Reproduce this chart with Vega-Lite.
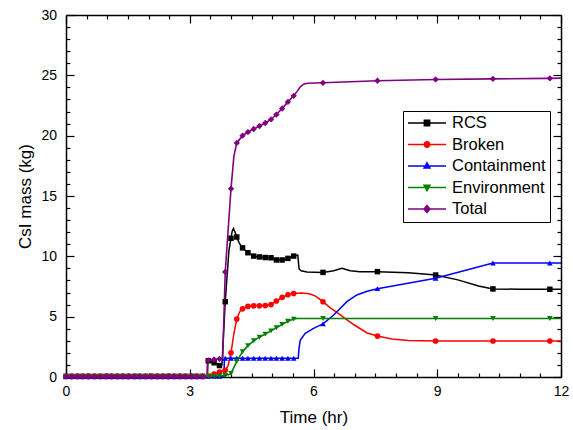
{
  "$schema": "https://vega.github.io/schema/vega-lite/v6.json",
  "width": 495,
  "height": 362,
  "autosize": "none",
  "padding": {"left": 66, "top": 15, "right": 12, "bottom": 53},
  "background": "white",
  "config": {
    "view": {"stroke": null},
    "font": "Liberation Sans",
    "axis": {
      "grid": false,
      "domainColor": "black",
      "tickColor": "black",
      "labelColor": "black",
      "titleColor": "black",
      "domainWidth": 1.5,
      "tickWidth": 1.2,
      "labelFontSize": 14,
      "titleFontSize": 17,
      "titleFontWeight": "normal",
      "labelFlush": false,
      "labelFont": "Liberation Sans",
      "titleFont": "Liberation Sans"
    },
    "legend": {
      "title": null,
      "orient": "none",
      "legendX": 337,
      "legendY": 96,
      "padding": 4,
      "strokeColor": "black",
      "fillColor": "white",
      "symbolSize": 1444,
      "symbolOffset": 0,
      "clipHeight": 16,
      "rowPadding": 4.5,
      "labelOffset": 5,
      "labelFontSize": 16.5,
      "labelFont": "Liberation Sans",
      "labelColor": "black",
      "labelLimit": 0,
      "symbolOpacity": 1
    }
  },
  "datasets": {
    "curve": [
      {"s":"RCS","t":0,"m":0.05},{"s":"RCS","t":3.43,"m":0.05},{"s":"RCS","t":3.44,"m":1.35},{"s":"RCS","t":3.45,"m":1.35},{"s":"RCS","t":3.59,"m":1.18},{"s":"RCS","t":3.72,"m":0.95},{"s":"RCS","t":3.78,"m":1.0},{"s":"RCS","t":3.86,"m":6.24},{"s":"RCS","t":3.95,"m":10.5},{"s":"RCS","t":4.0,"m":11.5},{"s":"RCS","t":4.03,"m":12.1},{"s":"RCS","t":4.06,"m":12.3},{"s":"RCS","t":4.1,"m":12.0},{"s":"RCS","t":4.14,"m":11.6},{"s":"RCS","t":4.2,"m":11.1},{"s":"RCS","t":4.28,"m":10.7},{"s":"RCS","t":4.41,"m":10.3},{"s":"RCS","t":4.55,"m":10.02},{"s":"RCS","t":4.69,"m":9.95},{"s":"RCS","t":4.83,"m":9.9},{"s":"RCS","t":4.97,"m":9.88},{"s":"RCS","t":5.1,"m":9.7},{"s":"RCS","t":5.24,"m":9.7},{"s":"RCS","t":5.38,"m":9.83},{"s":"RCS","t":5.52,"m":10.02},{"s":"RCS","t":5.62,"m":10.1},{"s":"RCS","t":5.65,"m":8.95},{"s":"RCS","t":5.7,"m":8.8},{"s":"RCS","t":5.84,"m":8.7},{"s":"RCS","t":6.23,"m":8.67},{"s":"RCS","t":6.49,"m":8.8},{"s":"RCS","t":6.69,"m":9.0},{"s":"RCS","t":6.89,"m":8.8},{"s":"RCS","t":7.13,"m":8.72},{"s":"RCS","t":7.55,"m":8.73},{"s":"RCS","t":8.3,"m":8.63},{"s":"RCS","t":8.96,"m":8.45},{"s":"RCS","t":9.5,"m":8.05},{"s":"RCS","t":10.0,"m":7.55},{"s":"RCS","t":10.35,"m":7.3},{"s":"RCS","t":11.0,"m":7.27},{"s":"RCS","t":11.73,"m":7.27},{"s":"RCS","t":12,"m":7.27},
      {"s":"Broken","t":0,"m":0.05},{"s":"Broken","t":3.45,"m":0.08},{"s":"Broken","t":3.59,"m":0.25},{"s":"Broken","t":3.72,"m":0.4},{"s":"Broken","t":3.86,"m":0.55},{"s":"Broken","t":3.93,"m":0.95},{"s":"Broken","t":4.0,"m":2.0},{"s":"Broken","t":4.07,"m":3.6},{"s":"Broken","t":4.14,"m":4.8},{"s":"Broken","t":4.21,"m":5.4},{"s":"Broken","t":4.28,"m":5.65},{"s":"Broken","t":4.41,"m":5.85},{"s":"Broken","t":4.55,"m":5.9},{"s":"Broken","t":4.69,"m":5.9},{"s":"Broken","t":4.83,"m":5.92},{"s":"Broken","t":4.97,"m":6.0},{"s":"Broken","t":5.1,"m":6.3},{"s":"Broken","t":5.24,"m":6.6},{"s":"Broken","t":5.38,"m":6.82},{"s":"Broken","t":5.52,"m":6.92},{"s":"Broken","t":5.7,"m":6.97},{"s":"Broken","t":5.9,"m":6.9},{"s":"Broken","t":6.05,"m":6.7},{"s":"Broken","t":6.23,"m":6.24},{"s":"Broken","t":6.4,"m":5.75},{"s":"Broken","t":6.65,"m":5.15},{"s":"Broken","t":6.97,"m":4.35},{"s":"Broken","t":7.3,"m":3.65},{"s":"Broken","t":7.55,"m":3.39},{"s":"Broken","t":7.9,"m":3.15},{"s":"Broken","t":8.3,"m":3.03},{"s":"Broken","t":8.96,"m":2.98},{"s":"Broken","t":10.35,"m":2.98},{"s":"Broken","t":11.73,"m":2.98},{"s":"Broken","t":12,"m":2.98},
      {"s":"Containment","t":0,"m":0.05},{"s":"Containment","t":3.83,"m":0.05},{"s":"Containment","t":3.84,"m":1.55},{"s":"Containment","t":5.63,"m":1.55},{"s":"Containment","t":5.65,"m":2.4},{"s":"Containment","t":5.68,"m":3.07},{"s":"Containment","t":5.8,"m":3.62},{"s":"Containment","t":6.0,"m":4.03},{"s":"Containment","t":6.23,"m":4.4},{"s":"Containment","t":6.49,"m":5.14},{"s":"Containment","t":6.81,"m":6.24},{"s":"Containment","t":7.05,"m":6.8},{"s":"Containment","t":7.3,"m":7.1},{"s":"Containment","t":7.55,"m":7.32},{"s":"Containment","t":8.96,"m":8.18},{"s":"Containment","t":10.35,"m":9.45},{"s":"Containment","t":11.73,"m":9.45},{"s":"Containment","t":12,"m":9.45},
      {"s":"Environment","t":0,"m":0.05},{"s":"Environment","t":3.45,"m":0.05},{"s":"Environment","t":3.72,"m":0.08},{"s":"Environment","t":3.86,"m":0.12},{"s":"Environment","t":3.95,"m":0.2},{"s":"Environment","t":4.0,"m":0.3},{"s":"Environment","t":4.05,"m":0.65},{"s":"Environment","t":4.14,"m":1.3},{"s":"Environment","t":4.28,"m":2.1},{"s":"Environment","t":4.41,"m":2.6},{"s":"Environment","t":4.55,"m":3.0},{"s":"Environment","t":4.69,"m":3.3},{"s":"Environment","t":4.83,"m":3.55},{"s":"Environment","t":4.97,"m":3.82},{"s":"Environment","t":5.1,"m":4.08},{"s":"Environment","t":5.24,"m":4.36},{"s":"Environment","t":5.38,"m":4.62},{"s":"Environment","t":5.52,"m":4.8},{"s":"Environment","t":5.6,"m":4.85},{"s":"Environment","t":6.23,"m":4.85},{"s":"Environment","t":12,"m":4.85},
      {"s":"Total","t":0,"m":0.05},{"s":"Total","t":3.42,"m":0.05},{"s":"Total","t":3.43,"m":1.35},{"s":"Total","t":3.45,"m":1.38},{"s":"Total","t":3.59,"m":1.45},{"s":"Total","t":3.72,"m":1.5},{"s":"Total","t":3.8,"m":1.6},{"s":"Total","t":3.86,"m":8.7},{"s":"Total","t":4.0,"m":15.6},{"s":"Total","t":4.07,"m":18.3},{"s":"Total","t":4.14,"m":19.4},{"s":"Total","t":4.28,"m":20.0},{"s":"Total","t":4.41,"m":20.3},{"s":"Total","t":4.55,"m":20.55},{"s":"Total","t":4.69,"m":20.8},{"s":"Total","t":4.83,"m":21.05},{"s":"Total","t":4.97,"m":21.35},{"s":"Total","t":5.1,"m":21.75},{"s":"Total","t":5.24,"m":22.25},{"s":"Total","t":5.38,"m":22.8},{"s":"Total","t":5.52,"m":23.3},{"s":"Total","t":5.6,"m":23.65},{"s":"Total","t":5.68,"m":24.05},{"s":"Total","t":5.76,"m":24.27},{"s":"Total","t":5.85,"m":24.35},{"s":"Total","t":6.23,"m":24.38},{"s":"Total","t":7.55,"m":24.55},{"s":"Total","t":8.96,"m":24.66},{"s":"Total","t":10.35,"m":24.71},{"s":"Total","t":11.73,"m":24.75},{"s":"Total","t":12,"m":24.77}
    ],
    "marks": [
      {"s":"RCS","t":0,"m":0.05},{"s":"RCS","t":0.14,"m":0.05},{"s":"RCS","t":0.28,"m":0.05},{"s":"RCS","t":0.41,"m":0.05},{"s":"RCS","t":0.55,"m":0.05},{"s":"RCS","t":0.69,"m":0.05},{"s":"RCS","t":0.83,"m":0.05},{"s":"RCS","t":0.97,"m":0.05},{"s":"RCS","t":1.1,"m":0.05},{"s":"RCS","t":1.24,"m":0.05},{"s":"RCS","t":1.38,"m":0.05},{"s":"RCS","t":1.52,"m":0.05},{"s":"RCS","t":1.66,"m":0.05},{"s":"RCS","t":1.79,"m":0.05},{"s":"RCS","t":1.93,"m":0.05},{"s":"RCS","t":2.07,"m":0.05},{"s":"RCS","t":2.21,"m":0.05},{"s":"RCS","t":2.35,"m":0.05},{"s":"RCS","t":2.48,"m":0.05},{"s":"RCS","t":2.62,"m":0.05},{"s":"RCS","t":2.76,"m":0.05},{"s":"RCS","t":2.9,"m":0.05},{"s":"RCS","t":3.04,"m":0.05},{"s":"RCS","t":3.17,"m":0.05},{"s":"RCS","t":3.31,"m":0.05},
      {"s":"RCS","t":3.45,"m":1.35},{"s":"RCS","t":3.59,"m":1.18},{"s":"RCS","t":3.72,"m":0.95},{"s":"RCS","t":3.86,"m":6.24},{"s":"RCS","t":4.0,"m":11.5},{"s":"RCS","t":4.14,"m":11.6},{"s":"RCS","t":4.28,"m":10.7},{"s":"RCS","t":4.41,"m":10.3},{"s":"RCS","t":4.55,"m":10.02},{"s":"RCS","t":4.69,"m":9.95},{"s":"RCS","t":4.83,"m":9.9},{"s":"RCS","t":4.97,"m":9.88},{"s":"RCS","t":5.1,"m":9.7},{"s":"RCS","t":5.24,"m":9.7},{"s":"RCS","t":5.38,"m":9.83},{"s":"RCS","t":5.52,"m":10.02},{"s":"RCS","t":6.23,"m":8.67},{"s":"RCS","t":7.55,"m":8.73},{"s":"RCS","t":8.96,"m":8.45},{"s":"RCS","t":10.35,"m":7.3},{"s":"RCS","t":11.73,"m":7.27},
      {"s":"Broken","t":0,"m":0.05},{"s":"Broken","t":0.14,"m":0.05},{"s":"Broken","t":0.28,"m":0.05},{"s":"Broken","t":0.41,"m":0.05},{"s":"Broken","t":0.55,"m":0.05},{"s":"Broken","t":0.69,"m":0.05},{"s":"Broken","t":0.83,"m":0.05},{"s":"Broken","t":0.97,"m":0.05},{"s":"Broken","t":1.1,"m":0.05},{"s":"Broken","t":1.24,"m":0.05},{"s":"Broken","t":1.38,"m":0.05},{"s":"Broken","t":1.52,"m":0.05},{"s":"Broken","t":1.66,"m":0.05},{"s":"Broken","t":1.79,"m":0.05},{"s":"Broken","t":1.93,"m":0.05},{"s":"Broken","t":2.07,"m":0.05},{"s":"Broken","t":2.21,"m":0.05},{"s":"Broken","t":2.35,"m":0.05},{"s":"Broken","t":2.48,"m":0.05},{"s":"Broken","t":2.62,"m":0.05},{"s":"Broken","t":2.76,"m":0.05},{"s":"Broken","t":2.9,"m":0.05},{"s":"Broken","t":3.04,"m":0.05},{"s":"Broken","t":3.17,"m":0.05},{"s":"Broken","t":3.31,"m":0.05},
      {"s":"Broken","t":3.45,"m":0.08},{"s":"Broken","t":3.59,"m":0.25},{"s":"Broken","t":3.72,"m":0.4},{"s":"Broken","t":3.86,"m":0.55},{"s":"Broken","t":4.0,"m":2.0},{"s":"Broken","t":4.14,"m":4.8},{"s":"Broken","t":4.28,"m":5.65},{"s":"Broken","t":4.41,"m":5.85},{"s":"Broken","t":4.55,"m":5.9},{"s":"Broken","t":4.69,"m":5.9},{"s":"Broken","t":4.83,"m":5.92},{"s":"Broken","t":4.97,"m":6.0},{"s":"Broken","t":5.1,"m":6.3},{"s":"Broken","t":5.24,"m":6.6},{"s":"Broken","t":5.38,"m":6.82},{"s":"Broken","t":5.52,"m":6.92},{"s":"Broken","t":6.23,"m":6.24},{"s":"Broken","t":7.55,"m":3.39},{"s":"Broken","t":8.96,"m":2.98},{"s":"Broken","t":10.35,"m":2.98},{"s":"Broken","t":11.73,"m":2.98},
      {"s":"Containment","t":0,"m":0.05},{"s":"Containment","t":0.14,"m":0.05},{"s":"Containment","t":0.28,"m":0.05},{"s":"Containment","t":0.41,"m":0.05},{"s":"Containment","t":0.55,"m":0.05},{"s":"Containment","t":0.69,"m":0.05},{"s":"Containment","t":0.83,"m":0.05},{"s":"Containment","t":0.97,"m":0.05},{"s":"Containment","t":1.1,"m":0.05},{"s":"Containment","t":1.24,"m":0.05},{"s":"Containment","t":1.38,"m":0.05},{"s":"Containment","t":1.52,"m":0.05},{"s":"Containment","t":1.66,"m":0.05},{"s":"Containment","t":1.79,"m":0.05},{"s":"Containment","t":1.93,"m":0.05},{"s":"Containment","t":2.07,"m":0.05},{"s":"Containment","t":2.21,"m":0.05},{"s":"Containment","t":2.35,"m":0.05},{"s":"Containment","t":2.48,"m":0.05},{"s":"Containment","t":2.62,"m":0.05},{"s":"Containment","t":2.76,"m":0.05},{"s":"Containment","t":2.9,"m":0.05},{"s":"Containment","t":3.04,"m":0.05},{"s":"Containment","t":3.17,"m":0.05},{"s":"Containment","t":3.31,"m":0.05},
      {"s":"Containment","t":3.45,"m":0.05},{"s":"Containment","t":3.59,"m":0.05},{"s":"Containment","t":3.72,"m":0.05},{"s":"Containment","t":3.86,"m":1.55},{"s":"Containment","t":4.0,"m":1.55},{"s":"Containment","t":4.14,"m":1.55},{"s":"Containment","t":4.28,"m":1.55},{"s":"Containment","t":4.41,"m":1.55},{"s":"Containment","t":4.55,"m":1.55},{"s":"Containment","t":4.69,"m":1.55},{"s":"Containment","t":4.83,"m":1.55},{"s":"Containment","t":4.97,"m":1.55},{"s":"Containment","t":5.1,"m":1.55},{"s":"Containment","t":5.24,"m":1.55},{"s":"Containment","t":5.38,"m":1.55},{"s":"Containment","t":5.52,"m":1.55},{"s":"Containment","t":6.23,"m":4.4},{"s":"Containment","t":7.55,"m":7.32},{"s":"Containment","t":8.96,"m":8.18},{"s":"Containment","t":10.35,"m":9.45},{"s":"Containment","t":11.73,"m":9.45},
      {"s":"Environment","t":0,"m":0.05},{"s":"Environment","t":0.14,"m":0.05},{"s":"Environment","t":0.28,"m":0.05},{"s":"Environment","t":0.41,"m":0.05},{"s":"Environment","t":0.55,"m":0.05},{"s":"Environment","t":0.69,"m":0.05},{"s":"Environment","t":0.83,"m":0.05},{"s":"Environment","t":0.97,"m":0.05},{"s":"Environment","t":1.1,"m":0.05},{"s":"Environment","t":1.24,"m":0.05},{"s":"Environment","t":1.38,"m":0.05},{"s":"Environment","t":1.52,"m":0.05},{"s":"Environment","t":1.66,"m":0.05},{"s":"Environment","t":1.79,"m":0.05},{"s":"Environment","t":1.93,"m":0.05},{"s":"Environment","t":2.07,"m":0.05},{"s":"Environment","t":2.21,"m":0.05},{"s":"Environment","t":2.35,"m":0.05},{"s":"Environment","t":2.48,"m":0.05},{"s":"Environment","t":2.62,"m":0.05},{"s":"Environment","t":2.76,"m":0.05},{"s":"Environment","t":2.9,"m":0.05},{"s":"Environment","t":3.04,"m":0.05},{"s":"Environment","t":3.17,"m":0.05},{"s":"Environment","t":3.31,"m":0.05},
      {"s":"Environment","t":3.45,"m":0.05},{"s":"Environment","t":3.59,"m":0.05},{"s":"Environment","t":3.72,"m":0.08},{"s":"Environment","t":3.86,"m":0.12},{"s":"Environment","t":4.0,"m":0.3},{"s":"Environment","t":4.14,"m":1.3},{"s":"Environment","t":4.28,"m":2.1},{"s":"Environment","t":4.41,"m":2.6},{"s":"Environment","t":4.55,"m":3.0},{"s":"Environment","t":4.69,"m":3.3},{"s":"Environment","t":4.83,"m":3.55},{"s":"Environment","t":4.97,"m":3.82},{"s":"Environment","t":5.1,"m":4.08},{"s":"Environment","t":5.24,"m":4.36},{"s":"Environment","t":5.38,"m":4.62},{"s":"Environment","t":5.52,"m":4.8},{"s":"Environment","t":6.23,"m":4.85},{"s":"Environment","t":8.96,"m":4.85},{"s":"Environment","t":10.35,"m":4.85},{"s":"Environment","t":11.73,"m":4.85},
      {"s":"Total","t":0,"m":0.05},{"s":"Total","t":0.14,"m":0.05},{"s":"Total","t":0.28,"m":0.05},{"s":"Total","t":0.41,"m":0.05},{"s":"Total","t":0.55,"m":0.05},{"s":"Total","t":0.69,"m":0.05},{"s":"Total","t":0.83,"m":0.05},{"s":"Total","t":0.97,"m":0.05},{"s":"Total","t":1.1,"m":0.05},{"s":"Total","t":1.24,"m":0.05},{"s":"Total","t":1.38,"m":0.05},{"s":"Total","t":1.52,"m":0.05},{"s":"Total","t":1.66,"m":0.05},{"s":"Total","t":1.79,"m":0.05},{"s":"Total","t":1.93,"m":0.05},{"s":"Total","t":2.07,"m":0.05},{"s":"Total","t":2.21,"m":0.05},{"s":"Total","t":2.35,"m":0.05},{"s":"Total","t":2.48,"m":0.05},{"s":"Total","t":2.62,"m":0.05},{"s":"Total","t":2.76,"m":0.05},{"s":"Total","t":2.9,"m":0.05},{"s":"Total","t":3.04,"m":0.05},{"s":"Total","t":3.17,"m":0.05},{"s":"Total","t":3.31,"m":0.05},
      {"s":"Total","t":3.45,"m":1.38},{"s":"Total","t":3.59,"m":1.45},{"s":"Total","t":3.72,"m":1.5},{"s":"Total","t":3.86,"m":8.7},{"s":"Total","t":4.0,"m":15.6},{"s":"Total","t":4.14,"m":19.4},{"s":"Total","t":4.28,"m":20.0},{"s":"Total","t":4.41,"m":20.3},{"s":"Total","t":4.55,"m":20.55},{"s":"Total","t":4.69,"m":20.8},{"s":"Total","t":4.83,"m":21.05},{"s":"Total","t":4.97,"m":21.35},{"s":"Total","t":5.1,"m":21.75},{"s":"Total","t":5.24,"m":22.25},{"s":"Total","t":5.38,"m":22.8},{"s":"Total","t":5.52,"m":23.3},{"s":"Total","t":6.23,"m":24.38},{"s":"Total","t":7.55,"m":24.55},{"s":"Total","t":8.96,"m":24.66},{"s":"Total","t":10.35,"m":24.71},{"s":"Total","t":11.73,"m":24.75}
    ]
  },
  "layer": [
    {
      "data": {"name": "curve"},
      "transform": [{"filter": "false"}],
      "mark": {"type": "point", "filled": true, "opacity": 1},
      "encoding": {
        "x": {"field": "t", "type": "quantitative",
              "axis": {"orient": "top", "values": [0, 3, 6, 9, 12], "tickSize": -8, "labels": false, "title": null}},
        "y": {"field": "m", "type": "quantitative",
              "axis": {"orient": "right", "values": [0, 5, 10, 15, 20, 25, 30], "tickSize": -8, "labels": false, "title": null}},
        "color": {"field": "s", "type": "nominal", "legend": {"title": null}},
        "stroke": {"field": "s", "type": "nominal", "legend": {"title": null},
                   "scale": {"domain": ["RCS", "Broken", "Containment", "Environment", "Total"], "range": ["#000000", "#FF0000", "#0000FF", "#008000", "#800080"]}},
        "strokeWidth": {"field": "s", "type": "nominal", "legend": {"title": null}},
        "shape": {"field": "s", "type": "nominal", "legend": {"title": null},
                  "scale": {"domain": ["RCS", "Broken", "Containment", "Environment", "Total"],
                            "range": [
                              "M-1,0H1M-0.14,-0.14H0.14V0.14H-0.14Z",
                              "M-1,0H1M0.15,0L0.106,0.106L0,0.15L-0.106,0.106L-0.15,0L-0.106,-0.106L0,-0.15L0.106,-0.106Z",
                              "M-1,0H1M0,-0.16L0.15,0.11L-0.15,0.11Z",
                              "M-1,0H1M0,0.16L0.15,-0.11L-0.15,-0.11Z",
                              "M-1,0H1M0,-0.18L0.15,0L0,0.18L-0.15,0Z"
                            ]}}
      }
    },
    {
      "data": {"name": "curve"},
      "mark": {"type": "line", "interpolate": "linear"},
      "encoding": {
        "x": {"field": "t", "type": "quantitative", "scale": {"domain": [0, 12], "nice": false, "zero": false},
              "axis": {"orient": "bottom", "values": [0, 3, 6, 9, 12], "tickSize": -8, "labelPadding": 15, "title": "Time (hr)", "titlePadding": 11}},
        "y": {"field": "m", "type": "quantitative", "scale": {"domain": [0, 30], "nice": false, "zero": false},
              "axis": {"orient": "left", "values": [0, 5, 10, 15, 20, 25, 30], "tickSize": -8, "labelPadding": 17.5, "title": "CsI mass (kg)", "titlePadding": 6}},
        "color": {"field": "s", "type": "nominal", "legend": {"title": null},
                  "scale": {"domain": ["RCS", "Broken", "Containment", "Environment", "Total"], "range": ["#000000", "#FF0000", "#0000FF", "#008000", "#800080"]}},
        "strokeWidth": {"field": "s", "type": "nominal", "legend": {"title": null},
                  "scale": {"domain": ["RCS", "Broken", "Containment", "Environment", "Total"], "range": [1.5, 1.6, 1.5, 2, 2]}}
      }
    },
    {
      "data": {"name": "marks"},
      "transform": [{"filter": "datum.s === 'RCS'"}],
      "mark": {"type": "point", "shape": "square", "filled": true, "opacity": 1, "size": 30, "color": "#000000"},
      "encoding": {
        "x": {"field": "t", "type": "quantitative",
              "axis": {"orient": "bottom", "values": [0.5, 1, 1.5, 2, 2.5, 3.5, 4, 4.5, 5, 5.5, 6.5, 7, 7.5, 8, 8.5, 9.5, 10, 10.5, 11, 11.5], "tickSize": -4, "labels": false, "domain": false, "title": null}},
        "y": {"field": "m", "type": "quantitative",
              "axis": {"orient": "left", "values": [1, 2, 3, 4, 6, 7, 8, 9, 11, 12, 13, 14, 16, 17, 18, 19, 21, 22, 23, 24, 26, 27, 28, 29], "tickSize": -4, "labels": false, "domain": false, "title": null}}
      }
    },
    {
      "data": {"name": "marks"},
      "transform": [{"filter": "datum.s === 'Broken'"}],
      "mark": {"type": "point", "shape": "circle", "filled": true, "opacity": 1, "size": 32, "color": "#FF0000"},
      "encoding": {
        "x": {"field": "t", "type": "quantitative",
              "axis": {"orient": "top", "values": [0.5, 1, 1.5, 2, 2.5, 3.5, 4, 4.5, 5, 5.5, 6.5, 7, 7.5, 8, 8.5, 9.5, 10, 10.5, 11, 11.5], "tickSize": -4, "labels": false, "domain": false, "title": null}},
        "y": {"field": "m", "type": "quantitative",
              "axis": {"orient": "right", "values": [1, 2, 3, 4, 6, 7, 8, 9, 11, 12, 13, 14, 16, 17, 18, 19, 21, 22, 23, 24, 26, 27, 28, 29], "tickSize": -4, "labels": false, "domain": false, "title": null}}
      }
    },
    {
      "data": {"name": "marks"},
      "transform": [{"filter": "datum.s === 'Containment'"}],
      "mark": {"type": "point", "shape": "triangle-up", "filled": true, "opacity": 1, "size": 32, "color": "#0000FF"},
      "encoding": {
        "x": {"field": "t", "type": "quantitative", "axis": null},
        "y": {"field": "m", "type": "quantitative", "axis": null}
      }
    },
    {
      "data": {"name": "marks"},
      "transform": [{"filter": "datum.s === 'Environment'"}],
      "mark": {"type": "point", "shape": "triangle-down", "filled": true, "opacity": 1, "size": 32, "color": "#008000"},
      "encoding": {
        "x": {"field": "t", "type": "quantitative", "axis": null},
        "y": {"field": "m", "type": "quantitative", "axis": null}
      }
    },
    {
      "data": {"name": "marks"},
      "transform": [{"filter": "datum.s === 'Total'"}],
      "mark": {"type": "point", "shape": "diamond", "filled": true, "opacity": 1, "size": 40, "color": "#800080"},
      "encoding": {
        "x": {"field": "t", "type": "quantitative", "axis": null},
        "y": {"field": "m", "type": "quantitative", "axis": null}
      }
    }
  ],
  "resolve": {"axis": {"x": "independent", "y": "independent"}}
}
